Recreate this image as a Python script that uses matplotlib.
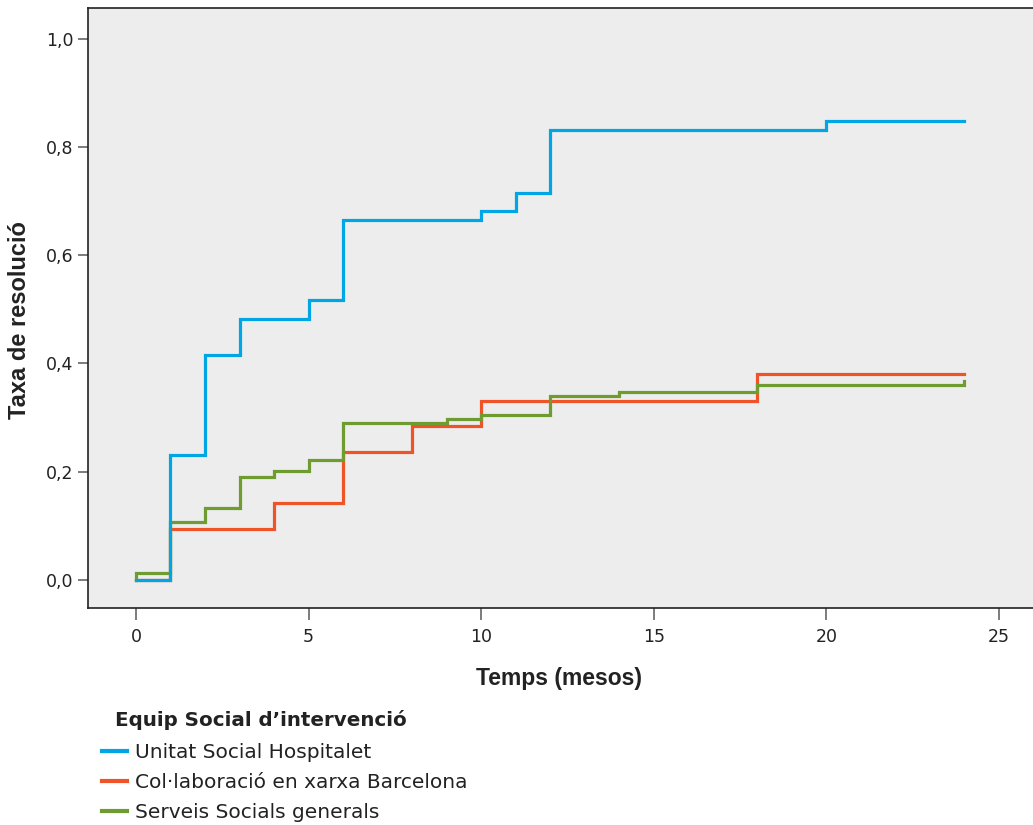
import numpy as np
import matplotlib
matplotlib.use("Agg")
import matplotlib.pyplot as plt
from matplotlib.lines import Line2D
from matplotlib.ticker import FuncFormatter

# step data (months, cumulative resolution rate)
t_unitat = [0, 1, 2, 3, 5, 6, 10, 11, 12, 20, 24]
v_unitat = [0.0, 0.231, 0.416, 0.482, 0.517, 0.665, 0.681, 0.715, 0.831, 0.848, 0.848]

t_collab = [0, 1, 4, 6, 8, 10, 18, 24]
v_collab = [0.0, 0.094, 0.142, 0.237, 0.285, 0.331, 0.381, 0.381]

t_serveis = [0, 0, 1, 2, 3, 4, 5, 6, 9, 10, 12, 14, 18, 24]
v_serveis = [0.0, 0.013, 0.107, 0.132, 0.191, 0.202, 0.221, 0.290, 0.297, 0.304, 0.340, 0.347, 0.361, 0.367]

labels = ["Unitat Social Hospitalet", "Col·laboració en xarxa Barcelona", "Serveis Socials generals"]
colors = ["#00A6E4", "#EE5428", "#6F9C30"]

xticks = [0, 5, 10, 15, 20, 25]
yticks = [0.0, 0.2, 0.4, 0.6, 0.8, 1.0]

W, H = 1033, 825
fig = plt.figure(figsize=(W / 100, H / 100), dpi=100)
ax = fig.add_axes([88 / W, 217 / H, 1 - 88 / W + 0.002, 600 / H])
ax.set_facecolor("#EDEDED")

lw = 2.3
ax.step(t_collab, v_collab, where="post", color=colors[1], lw=lw, solid_joinstyle="miter")
ax.step(t_serveis, v_serveis, where="post", color=colors[2], lw=lw, solid_joinstyle="miter")
ax.step(t_unitat, v_unitat, where="post", color=colors[0], lw=lw, solid_joinstyle="miter")

ax.set_xlim(-1.39, 26.05)
ax.set_ylim(-0.052, 1.057)
ax.set_xticks(xticks)
ax.set_yticks(yticks)
ax.yaxis.set_major_formatter(FuncFormatter(lambda v, p: f"{v:.1f}".replace(".", ",")))

for s in ["left", "top", "bottom"]:
    ax.spines[s].set_color("#222222")
    ax.spines[s].set_linewidth(1.2)
ax.spines["right"].set_visible(False)

ax.tick_params(axis="both", direction="out", color="#666666", width=1.2,
               labelsize=12.5, labelcolor="#222222")
ax.tick_params(axis="y", length=7.5, pad=3)
ax.tick_params(axis="x", length=8.5, pad=6)
for lab in ax.get_xticklabels() + ax.get_yticklabels():
    lab.set_family("DejaVu Sans")

ax.set_ylabel("Taxa de resolució", family="Liberation Sans", weight="bold",
              fontsize=17, color="#222222")
ax.yaxis.set_label_coords((20 - 88) / 945, (608 - 320) / 600)
ax.set_xlabel("Temps (mesos)", family="Liberation Sans", weight="bold",
              fontsize=16.5, color="#222222")
ax.xaxis.set_label_coords((558 - 88) / 945, (608 - 678) / 600)
ax.xaxis.label.set_va("center")
ax.yaxis.label.set_va("center")

fig.text(115 / W, 1 - 720 / H, "Equip Social d’intervenció", family="DejaVu Sans",
         weight="bold", fontsize=14.3, color="#222222", va="center", ha="left")

handles = [Line2D([0], [0], color=c, lw=3) for c in colors]
leg = fig.legend(handles, labels, loc="upper left", bbox_to_anchor=(102 / W, 1 - 743 / H),
                 frameon=False, prop={"family": "DejaVu Sans", "size": 14.5},
                 handlelength=1.25, handletextpad=0.4, labelspacing=0.55,
                 borderaxespad=0, borderpad=0)
for txt in leg.get_texts():
    txt.set_color("#222222")

fig.savefig("out.png", dpi=100)
